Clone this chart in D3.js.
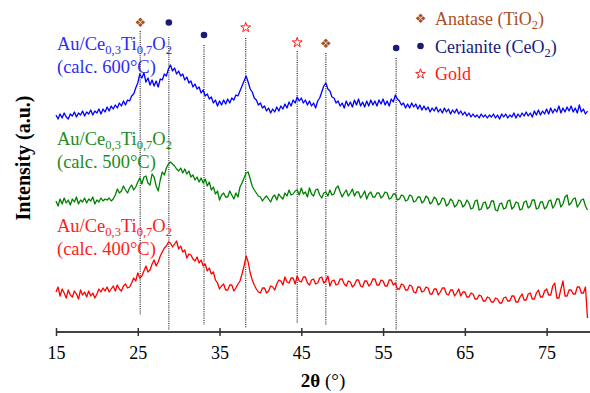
<!DOCTYPE html>
<html>
<head>
<meta charset="utf-8">
<script src="https://cdn.jsdelivr.net/npm/d3@7"></script>
<style>
  body { margin: 0; background: #fff; }
  svg { display: block; font-family: "Liberation Serif", "Times New Roman", serif; }
</style>
</head>
<body>
<svg id="chart" width="590" height="393"></svg>
<script>
// XRD patterns Au/Ce0.3Ti0.7O2, calcined at 400, 500 and 600 C

// 2theta grid (0.25 deg steps, 15 -> 80)
const twoTheta = d3.range(15, 80.001, 0.25);

// intensities (a.u., relative to each pattern's own baseline)
// one row = 5 degrees
const calc600 = [
  21,17,22,18,23,19,17,22,20,24,19,23,21,25,20,24,22,26,21,25,
  23,27,22,27,24,29,25,30,27,31,28,33,30,35,31,36,35,40,42,48,
  53,62,58,63,54,58,51,56,50,55,49,57,56,62,60,67,71,65,68,62,
  65,60,62,56,59,53,55,49,52,47,49,43,46,40,42,37,39,33,36,30,
  35,31,36,32,37,33,38,36,41,40,45,50,55,60,54,47,44,38,36,31,
  33,28,30,25,28,23,27,24,29,25,30,27,32,28,34,30,36,33,39,35,
  38,33,36,31,35,30,33,28,35,38,44,50,53,47,45,39,38,33,35,30,
  33,28,35,30,34,29,36,31,37,30,34,29,35,30,36,31,35,30,36,32,
  37,31,35,30,37,34,41,37,35,31,33,28,32,28,33,29,32,27,31,26,
  30,26,29,24,28,25,29,24,27,23,28,24,27,22,26,23,27,22,25,21,
  24,20,23,19,22,19,21,18,22,19,21,18,21,19,22,18,21,17,22,19,
  22,18,21,19,23,18,22,19,23,20,24,20,23,19,25,21,26,21,25,22,
  27,22,28,23,27,24,30,23,28,24,29,25,30,24,28,23,31,24,27,22,
  25];
const calc500 = [
  20,15,22,17,23,18,21,16,22,19,24,17,21,19,23,18,22,20,24,17,
  21,19,23,20,22,21,23,20,22,26,32,28,30,35,31,28,33,36,31,34,
  39,43,37,44,45,38,36,47,44,35,30,41,49,46,53,57,59,57,55,52,
  50,53,48,52,47,50,44,46,41,44,39,43,38,42,35,39,31,34,27,30,
  21,26,28,24,24,30,26,22,28,24,34,38,43,48,49,42,35,31,28,25,
  24,20,23,25,22,19,24,26,21,27,24,22,28,25,31,26,27,30,31,26,
  33,27,29,24,33,27,25,31,32,26,23,28,29,25,31,26,27,33,35,29,
  24,28,31,25,28,32,25,29,29,23,26,30,22,27,29,24,24,28,28,23,
  25,29,28,22,23,27,27,21,22,26,25,20,21,26,25,19,20,24,24,18,
  20,25,23,17,19,24,22,16,18,23,22,15,17,22,20,14,16,21,20,14,
  16,21,18,12,13,20,21,11,12,18,19,12,14,20,20,11,10,17,18,12,
  13,20,21,12,14,19,18,11,12,19,20,13,15,21,21,12,13,19,19,12,
  14,20,21,13,16,22,22,14,17,24,26,16,18,22,23,14,17,21,22,15,
  11];
const calc400 = [
  19,24,15,22,18,13,21,16,14,20,17,12,21,16,19,14,20,15,18,13,
  17,22,19,23,20,24,19,22,25,20,26,22,20,25,27,23,24,28,33,30,
  38,33,35,40,45,39,41,47,51,45,49,55,59,63,65,69,68,64,67,70,
  62,65,59,61,53,57,56,52,50,54,48,51,45,47,40,43,37,39,31,28,
  22,25,27,21,21,26,26,20,23,27,30,37,45,55,49,38,31,26,22,19,
  18,23,23,18,20,25,24,21,27,31,30,26,34,29,28,33,33,27,35,30,
  29,34,34,28,26,31,32,27,28,33,34,28,30,35,25,30,31,26,27,32,
  32,27,25,30,29,24,26,31,31,25,24,30,30,25,27,32,32,26,26,31,
  30,25,25,31,31,26,28,22,22,27,26,21,21,26,25,19,18,24,24,19,
  20,24,23,17,17,22,22,16,19,23,23,17,16,21,21,15,18,22,15,19,
  19,14,14,18,17,12,12,16,15,10,10,14,13,9,9,13,12,8,8,13,
  14,10,10,15,15,9,9,14,17,11,11,17,18,12,12,18,21,14,14,20,
  22,16,16,25,28,13,13,22,30,15,15,21,21,17,17,24,24,18,18,24,
  -7];

const seriesTemps = ["600", "500", "400"];
const seriesOffsets = [195, 110, 20];

// reference peak positions (2theta) and phase
const peakPos = [25.3, 28.8, 33.1, 38.2, 44.5, 48.0, 56.6];
const peakPhase = ["anatase", "ceria", "ceria", "gold", "gold", "anatase", "ceria"];

const phaseNames = ["Anatase (TiO", "Cerianite (CeO", "Gold"];
const phaseSub = ["2", "2", ""];
const phaseKeys = ["anatase", "ceria", "gold"];

const xTicks = [15, 25, 35, 45, 55, 65, 75];

// ------------------------------------------------------------------

const traceColor = ["#0000ff", "#008000", "#ff0000"];
const labelColor = ["#2e2ef0", "#228b22", "#ff2020"];
const phaseColor = { anatase: "#aa4f1f", ceria: "#1a1a78", gold: "#ff1a1a" };

const svg = d3.select("#chart");

const x = d3.scaleLinear().domain([15, 80]).range([56, 587.5]);
const y = d3.scaleLinear().domain([0, 331]).range([331, 0]);

// marker heights above each dotted line (pixels)
const markerTop = [22, 22.5, 35, 27, 42, 43, 48];
const lineTop = [31, 37, 45, 38, 51, 53, 58];
const lineBottom = [315, 330, 325, 328, 323, 325, 330];

// dotted reference lines
svg.append("g").selectAll("line")
  .data(peakPos)
  .join("line")
  .attr("x1", d => x(d))
  .attr("x2", d => x(d))
  .attr("y1", (d, i) => lineTop[i])
  .attr("y2", (d, i) => lineBottom[i])
  .attr("stroke", "#222")
  .attr("stroke-width", 1.2)
  .attr("stroke-dasharray", "1,1.2");

function drawMarker(g, phase, cx, cy) {
  if (phase === "ceria") {
    g.append("circle").attr("cx", cx).attr("cy", cy).attr("r", 3.3)
      .attr("fill", phaseColor.ceria);
  } else if (phase === "anatase") {
    g.append("text").attr("x", cx).attr("y", cy + 4.5)
      .attr("text-anchor", "middle")
      .attr("font-family", "DejaVu Sans")
      .attr("font-size", 13)
      .attr("fill", phaseColor.anatase)
      .text("\u2756");
  } else {
    g.append("path")
      .attr("d", d3.symbol(d3.symbolStar, 30)())
      .attr("transform", "translate(" + cx + "," + (cy + 0.5) + ")")
      .attr("fill", "none")
      .attr("stroke", phaseColor.gold)
      .attr("stroke-width", 1);
  }
}

const markers = svg.append("g");
peakPos.forEach((p, i) => drawMarker(markers, peakPhase[i], x(p), markerTop[i]));

// patterns
const allSeries = [calc600, calc500, calc400];
const line = d3.line()
  .x((d, i) => x(twoTheta[i]));

allSeries.forEach((s, k) => {
  svg.append("path")
    .datum(s)
    .attr("fill", "none")
    .attr("stroke", traceColor[k])
    .attr("stroke-width", 1.3)
    .attr("stroke-linejoin", "round")
    .attr("d", line.y(d => y(d + seriesOffsets[k])));
});

// sample labels
const labelTop = [50, 145, 232];
seriesTemps.forEach((t, k) => {
  const g = svg.append("text")
    .attr("x", 57)
    .attr("y", labelTop[k])
    .attr("font-size", 18.5)
    .attr("fill", labelColor[k]);
  g.append("tspan").text("Au/Ce");
  g.append("tspan").attr("dy", 4).attr("font-size", 12.5).text("0,3");
  g.append("tspan").attr("dy", -4).text("Ti");
  g.append("tspan").attr("dy", 4).attr("font-size", 12.5).text("0,7");
  g.append("tspan").attr("dy", -4).text("O");
  g.append("tspan").attr("dy", 4).attr("font-size", 12.5).text("2");
  svg.append("text")
    .attr("x", 57)
    .attr("y", labelTop[k] + 23)
    .attr("font-size", 18.5)
    .attr("fill", labelColor[k])
    .text("(calc. " + t + "\u00b0C)");
});

// legend
const legend = svg.append("g");
phaseKeys.forEach((key, i) => {
  const ly = 25 + i * 27.5;
  drawMarker(legend, key, 420.5, ly - 6.5);
  const txt = legend.append("text")
    .attr("x", 435)
    .attr("y", ly)
    .attr("font-size", 18)
    .attr("fill", phaseColor[key]);
  txt.append("tspan").text(phaseNames[i]);
  if (phaseSub[i]) {
    txt.append("tspan").attr("dy", 4).attr("font-size", 12.5).text(phaseSub[i]);
    txt.append("tspan").attr("dy", -4).text(")");
  }
});

// x axis
const xAxis = d3.axisBottom(x)
  .tickValues(xTicks)
  .tickSizeOuter(0)
  .tickSizeInner(4)
  .tickPadding(10)
  .tickFormat(d3.format("d"));

const ax = svg.append("g")
  .attr("transform", "translate(0,332)")
  .call(xAxis);
ax.select(".domain").attr("stroke", "#444").attr("stroke-width", 2)
  .attr("d", "M56,0H590");
ax.selectAll(".tick line").attr("y1", -4).attr("y2", 4)
  .attr("stroke", "#333").attr("stroke-width", 1.5);
ax.selectAll(".tick text")
  .attr("font-family", "Liberation Serif")
  .attr("font-size", 18)
  .attr("fill", "#000")
  .attr("y", 14)
  .attr("dy", "0.71em");

// axis titles
const xt = svg.append("text")
  .attr("x", 323)
  .attr("y", 387)
  .attr("text-anchor", "middle")
  .attr("font-size", 19);
xt.append("tspan").attr("font-weight", "bold").text("2\u03b8");
xt.append("tspan").text(" (\u00b0)");

svg.append("text")
  .attr("transform", "translate(30,158) rotate(-90)")
  .attr("text-anchor", "middle")
  .attr("font-size", 20)
  .attr("font-weight", "bold")
  .text("Intensity (a.u.)");
</script>
</body>
</html>
